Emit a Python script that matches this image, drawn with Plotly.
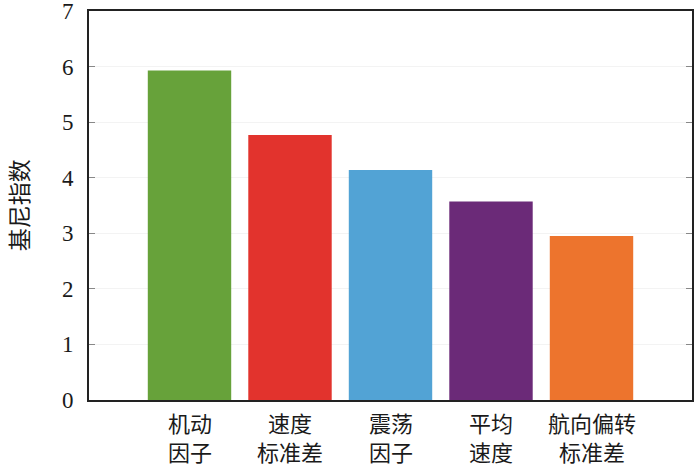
import plotly.graph_objects as go

line1 = ["机动", "速度", "震荡", "平均", "航向偏转"]
line2 = ["因子", "标准差", "因子", "速度", "标准差"]
values = [5.93, 4.77, 4.14, 3.57, 2.95]
colors = ["#67a23a", "#e2332d", "#52a3d5", "#6b2a78", "#ed742d"]
y_ticks = [0, 1, 2, 3, 4, 5, 6, 7]
y_title = "基尼指数"

xs = list(range(len(values)))
fig = go.Figure(go.Bar(
    x=xs, y=values,
    marker=dict(color=colors, line=dict(width=0)),
    width=0.83,
))

cat_font = dict(size=22, family="Noto Sans CJK SC", color="#1a1a1a")
for i in xs:
    fig.add_annotation(x=i, y=0, xref="x", yref="y", text=line1[i], showarrow=False,
                       yshift=-22, font=cat_font, xanchor="center", yanchor="middle")
    fig.add_annotation(x=i, y=0, xref="x", yref="y", text=line2[i], showarrow=False,
                       yshift=-51, font=cat_font, xanchor="center", yanchor="middle")
fig.add_annotation(x=-0.118, y=0.5, xref="paper", yref="paper", text=y_title, textangle=-90,
                   showarrow=False, font=dict(size=23, family="Noto Sans CJK SC", color="#1a1a1a"),
                   xanchor="center", yanchor="middle")

fig.update_layout(
    width=700, height=468,
    margin=dict(l=89, r=8, t=11, b=68),
    paper_bgcolor="white", plot_bgcolor="white",
    showlegend=False,
)
fig.update_xaxes(
    range=[-1, 5], showticklabels=False, ticks="", showgrid=False, automargin=False,
    showline=True, linecolor="#222222", linewidth=2, mirror=True,
)
fig.update_yaxes(
    range=[0, 7], tickvals=y_ticks, ticks="inside", ticklen=6, tickcolor="#888888",
    showgrid=True, gridcolor="#f3f3f3", gridwidth=1, zeroline=False, automargin=False,
    showline=True, linecolor="#222222", linewidth=2, mirror="allticks",
    ticklabelstandoff=9, ticklabeloverflow="allow",
    tickfont=dict(size=23, family="Liberation Serif", color="#1a1a1a"),
)

fig.write_html("out.html", config={"displayModeBar": False},
               post_script="document.body.style.margin='0';document.body.style.overflow='hidden';")
